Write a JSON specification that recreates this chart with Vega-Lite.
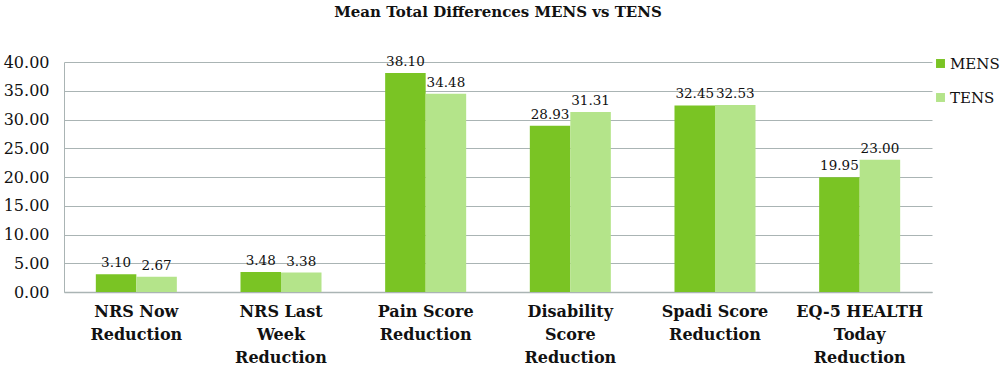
{
  "$schema": "https://vega.github.io/schema/vega-lite/v6.json",
  "width": 868,
  "height": 230,
  "autosize": {"type": "none"},
  "padding": {"left": 64, "top": 62, "right": 68, "bottom": 76},
  "background": "white",
  "title": {
    "text": "Mean Total Differences MENS vs TENS",
    "font": "DejaVu Serif",
    "fontSize": 15,
    "fontWeight": "bold",
    "color": "#111111",
    "anchor": "middle",
    "offset": 34
  },
  "data": {
    "values": [
      {"cat": "NRS Now|Reduction", "group": "MENS", "value": 3.10},
      {"cat": "NRS Now|Reduction", "group": "TENS", "value": 2.67},
      {"cat": "NRS Last|Week|Reduction", "group": "MENS", "value": 3.48},
      {"cat": "NRS Last|Week|Reduction", "group": "TENS", "value": 3.38},
      {"cat": "Pain Score|Reduction", "group": "MENS", "value": 38.10},
      {"cat": "Pain Score|Reduction", "group": "TENS", "value": 34.48},
      {"cat": "Disability|Score|Reduction", "group": "MENS", "value": 28.93},
      {"cat": "Disability|Score|Reduction", "group": "TENS", "value": 31.31},
      {"cat": "Spadi Score|Reduction", "group": "MENS", "value": 32.45},
      {"cat": "Spadi Score|Reduction", "group": "TENS", "value": 32.53},
      {"cat": "EQ-5 HEALTH|Today|Reduction", "group": "MENS", "value": 19.95},
      {"cat": "EQ-5 HEALTH|Today|Reduction", "group": "TENS", "value": 23.00}
    ]
  },
  "encoding": {
    "x": {
      "field": "cat",
      "type": "nominal",
      "sort": null,
      "title": null,
      "scale": {"paddingInner": 0.44, "paddingOuter": 0.22},
      "axis": {
        "labelAngle": 0,
        "labelExpr": "split(datum.label, '|')",
        "labelFont": "DejaVu Serif",
        "labelFontSize": 16,
        "labelFontWeight": "bold",
        "labelColor": "#111111",
        "labelLineHeight": 23,
        "labelPadding": 11,
        "labelBaseline": "top",
        "ticks": false,
        "domainColor": "#aab4b4",
        "domainWidth": 1.5,
        "grid": false
      }
    },
    "xOffset": {"field": "group", "type": "nominal", "scale": {"paddingInner": 0, "paddingOuter": 0}},
    "y": {
      "field": "value",
      "type": "quantitative",
      "title": null,
      "scale": {"domain": [0, 40], "nice": false},
      "axis": {
        "values": [0, 5, 10, 15, 20, 25, 30, 35, 40],
        "format": ".2f",
        "labelFont": "DejaVu Serif",
        "labelFontSize": 16,
        "labelColor": "#111111",
        "labelPadding": 15,
        "ticks": false,
        "domain": true,
        "domainColor": "#aab4b4",
        "gridColor": "#aab4b4",
        "gridWidth": 1
      }
    }
  },
  "layer": [
    {
      "mark": {"type": "bar"},
      "encoding": {
        "color": {
          "field": "group",
          "type": "nominal",
          "scale": {"domain": ["MENS", "TENS"], "range": ["#7ac424", "#b4e48a"]},
          "legend": {
            "title": null,
            "orient": "none",
            "legendX": 869,
            "legendY": -6,
            "symbolType": "square",
            "symbolSize": 80,
            "symbolStrokeWidth": 0,
            "labelFont": "DejaVu Serif",
            "labelFontSize": 15,
            "labelColor": "#111111",
            "rowPadding": 18,
            "labelOffset": 2,
            "padding": 0
          }
        }
      }
    },
    {
      "mark": {"type": "text", "baseline": "bottom", "dy": -4, "font": "DejaVu Serif", "fontSize": 13.5, "color": "#111111"},
      "encoding": {
        "text": {"field": "value", "type": "quantitative", "format": ".2f"}
      }
    }
  ],
  "config": {
    "view": {"stroke": null}
  }
}
